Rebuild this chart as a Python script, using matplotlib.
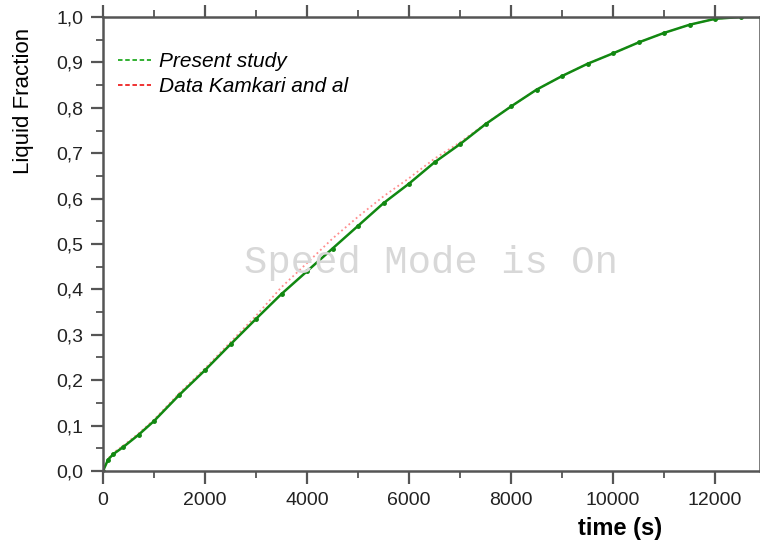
import matplotlib
matplotlib.use('Agg')
import matplotlib.pyplot as plt
from matplotlib.lines import Line2D
from matplotlib.ticker import MultipleLocator, FuncFormatter

# time (s) and liquid fraction
time = [0, 100, 200, 400, 700, 1000, 1500, 2000, 2500, 3000, 3500, 4000, 4500, 5000,
        5500, 6000, 6500, 7000, 7500, 8000, 8500, 9000, 9500, 10000, 10500, 11000,
        11500, 12000, 12500, 12900]
present = [0.0, 0.025, 0.037, 0.053, 0.08, 0.11, 0.168, 0.222, 0.279, 0.335, 0.39, 0.44,
           0.49, 0.54, 0.59, 0.633, 0.68, 0.72, 0.764, 0.803, 0.84, 0.87, 0.897, 0.92,
           0.944, 0.965, 0.983, 0.996, 1.0, 1.0]
kamkari = [0.0, 0.027, 0.04, 0.056, 0.083, 0.113, 0.172, 0.226, 0.284, 0.342, 0.405, 0.458,
           0.512, 0.56, 0.605, 0.645, 0.688, 0.724, 0.765, 0.803, 0.84, 0.87, 0.897, 0.92,
           0.944, 0.965, 0.983, 0.996, 1.0, 1.0]
legend_labels = ['Present study', 'Data Kamkari and al']

plt.rcParams['font.family'] = ['Liberation Sans', 'DejaVu Sans']

fig = plt.figure(figsize=(7.6, 5.45), dpi=100)
ax = fig.add_axes([0.1355, 0.1358, 0.8645, 0.833])

ax.plot(time, kamkari, color='#ff7070', linestyle=':', linewidth=1.3, alpha=0.8)
ax.plot(time, present, color='#118811', linestyle='-', linewidth=1.8,
        marker='o', markersize=2.5)

ax.set_xlim(0, 12880)
ax.set_ylim(0, 1.0)
ax.xaxis.set_major_locator(MultipleLocator(2000))
ax.xaxis.set_minor_locator(MultipleLocator(1000))
ax.yaxis.set_major_locator(MultipleLocator(0.1))
ax.yaxis.set_minor_locator(MultipleLocator(0.05))
ax.yaxis.set_major_formatter(FuncFormatter(lambda v, p: ('%.1f' % v).replace('.', ',')))

for s in ax.spines.values():
    s.set_color('#555555')
    s.set_linewidth(1.8)
ax.tick_params(which='both', direction='out', colors='#555555', labelcolor='#222222',
               top=True, right=True, labelsize=14)
ax.tick_params(which='major', length=9, width=1.6)
ax.tick_params(which='minor', length=5, width=1.3)
ax.tick_params(axis='y', pad=5)
ax.tick_params(axis='x', pad=6)

ax.set_ylabel('Liquid Fraction', fontsize=16)
ax.yaxis.set_label_coords(-0.105, 0.815)
ax.set_xlabel('time (s)', fontsize=17, fontweight='bold')
ax.xaxis.set_label_coords(0.787, -0.102)

handles = [Line2D([0], [0], color='#22aa22', linestyle=(0, (2.5, 1.5)), linewidth=1.3),
           Line2D([0], [0], color='#ee2222', linestyle=(0, (2.5, 1.5)), linewidth=1.3)]
leg = ax.legend(handles, legend_labels, loc='upper left', bbox_to_anchor=(0.0, 0.955),
                frameon=False, prop={'style': 'italic', 'size': 15},
                handlelength=1.6, handletextpad=0.4, labelspacing=0.3,
                borderaxespad=0.3)

ax.text(0.5, 0.458, 'Speed Mode is On', transform=ax.transAxes, ha='center', va='center',
        family='Liberation Mono', fontsize=28, color='#d8d8d8')

fig.savefig('out.png', dpi=100)
